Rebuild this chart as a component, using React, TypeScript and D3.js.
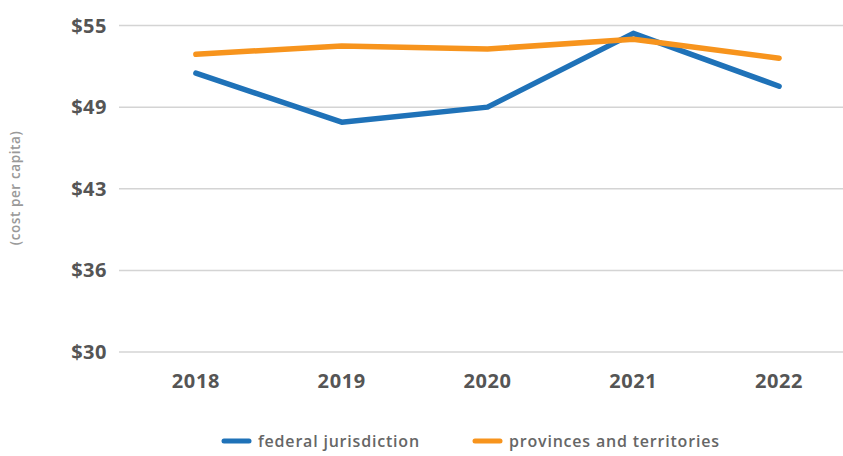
import React from "react";
import * as d3 from "d3";

const years = ["2018", "2019", "2020", "2021", "2022"];
const federal = [51.35, 47.6, 48.75, 54.4, 50.35];
const provinces = [52.8, 53.43, 53.2, 53.95, 52.5];
const yTicks = [30, 36.25, 42.5, 48.75, 55];
const yTickLabels = ["$30", "$36", "$43", "$49", "$55"];
const seriesNames = ["federal jurisdiction", "provinces and territories"];
const colors = ["#1f72b8", "#f7941d"];

const W = 843;
const H = 456;
const font = "'Open Sans', sans-serif";

export default function App() {
  const x = d3.scaleBand<string>().domain(years).range([123, 852]);
  const y = d3.scaleLinear().domain([30, 55]).range([352, 25.5]);
  const cx = (d: string) => (x(d) as number) + x.bandwidth() / 2;
  const line = d3
    .line<number>()
    .x((_, i) => cx(years[i]))
    .y((v) => y(v));
  const series = [federal, provinces];
  const legendX = [222, 473];

  return (
    <svg
      width={W}
      height={H}
      style={{ position: "absolute", left: 0, top: 0, background: "#fff" }}
    >
      {yTicks.map((t, i) => (
        <g key={t}>
          <line
            x1={119}
            x2={W}
            y1={y(t)}
            y2={y(t)}
            stroke="#d4d4d4"
            strokeWidth={1.5}
          />
          <text
            x={107}
            y={y(t)}
            dy="0.35em"
            textAnchor="end"
            fontFamily={font}
            fontWeight={700}
            fontSize={20}
            letterSpacing={0.5}
            fill="#555"
          >
            {yTickLabels[i]}
          </text>
        </g>
      ))}
      <text
        transform="translate(20,188) rotate(-90)"
        textAnchor="middle"
        fontFamily={font}
        fontWeight={600}
        fontSize={13.5}
        letterSpacing={0.6}
        fill="#999"
      >
        (cost per capita)
      </text>
      {years.map((yr) => (
        <text
          key={yr}
          x={cx(yr)}
          y={388}
          textAnchor="middle"
          fontFamily={font}
          fontWeight={700}
          fontSize={20}
          letterSpacing={0.6}
          fill="#555"
        >
          {yr}
        </text>
      ))}
      {series.map((s, i) => (
        <path
          key={i}
          d={line(s) as string}
          fill="none"
          stroke={colors[i]}
          strokeWidth={5.5}
          strokeLinecap="round"
          strokeLinejoin="round"
        />
      ))}
      {seriesNames.map((n, i) => (
        <g key={n}>
          <line
            x1={legendX[i] + 2}
            x2={legendX[i] + 27}
            y1={441}
            y2={441}
            stroke={colors[i]}
            strokeWidth={5}
            strokeLinecap="round"
          />
          <text
            x={legendX[i] + 36}
            y={441}
            dy="0.35em"
            fontFamily={font}
            fontWeight={600}
            fontSize={16}
            letterSpacing={0.8}
            fill="#666"
          >
            {n}
          </text>
        </g>
      ))}
    </svg>
  );
}
